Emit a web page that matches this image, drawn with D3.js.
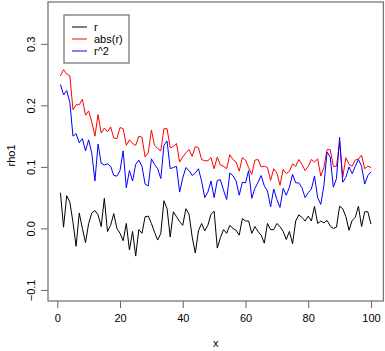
<!DOCTYPE html>
<html>
<head>
<meta charset="utf-8">
<script src="https://cdn.jsdelivr.net/npm/d3@7"></script>
<style>
  body { margin: 0; background: #fff; }
  text { font-family: "Liberation Sans", Arial, sans-serif; font-size: 11px; fill: #000; }
</style>
</head>
<body>
<svg width="385" height="351"></svg>
<script>
// values, one per x = 1..100
const rVals = [
  0.058, 0.002, 0.053, 0.043, 0.010, -0.029, 0.025, 0.000, -0.023, 0.008,
  0.025, 0.029, 0.022, 0.003, 0.049, -0.005, 0.005, 0.024, 0.000, -0.008,
  -0.020, 0.008, -0.035, -0.005, -0.045, -0.002, -0.008, 0.019, 0.020, 0.008,
  -0.006, -0.019, -0.008, 0.045, 0.032, -0.014, 0.027, 0.019, 0.011, 0.005,
  0.032, 0.023, -0.014, -0.040, -0.004, 0.008, -0.004, 0.005, 0.023, 0.028,
  -0.032, -0.015, -0.002, -0.008, 0.005, 0.000, -0.003, -0.011, 0.016, 0.012,
  0.012, -0.008, 0.003, -0.005, -0.011, -0.024, 0.008, -0.002, -0.002, 0.008,
  0.003, -0.005, -0.018, -0.005, -0.025, 0.012, 0.022, 0.018, 0.012, 0.020,
  0.012, 0.036, 0.008, 0.012, 0.009, 0.013, 0.004, 0.000, 0.002, 0.036,
  0.032, 0.019, -0.003, 0.013, 0.018, 0.036, 0.003, 0.027, 0.027, 0.007
];
const absVals = [
  0.248, 0.258, 0.251, 0.248, 0.193, 0.201, 0.201, 0.210, 0.184, 0.191,
  0.173, 0.150, 0.185, 0.155, 0.163, 0.157, 0.165, 0.147, 0.146, 0.164,
  0.162, 0.135, 0.144, 0.138, 0.135, 0.150, 0.148, 0.116, 0.123, 0.160,
  0.135, 0.130, 0.126, 0.162, 0.162, 0.131, 0.133, 0.138, 0.108, 0.116,
  0.123, 0.128, 0.117, 0.133, 0.131, 0.112, 0.110, 0.110, 0.115, 0.097,
  0.116, 0.103, 0.101, 0.097, 0.120, 0.112, 0.108, 0.093, 0.115, 0.111,
  0.099, 0.088, 0.111, 0.112, 0.100, 0.101, 0.099, 0.078, 0.097, 0.090,
  0.070, 0.096, 0.089, 0.093, 0.105, 0.101, 0.112, 0.104, 0.094, 0.101,
  0.112, 0.108, 0.113, 0.085, 0.099, 0.128, 0.128, 0.101, 0.101, 0.140,
  0.083, 0.115, 0.104, 0.101, 0.111, 0.113, 0.119, 0.097, 0.101, 0.099
];
const sqVals = [
  0.234, 0.217, 0.224, 0.205, 0.150, 0.154, 0.139, 0.146, 0.126, 0.144,
  0.122, 0.077, 0.137, 0.106, 0.103, 0.105, 0.101, 0.086, 0.085, 0.094,
  0.126, 0.066, 0.094, 0.077, 0.104, 0.111, 0.101, 0.072, 0.069, 0.113,
  0.104, 0.097, 0.081, 0.135, 0.142, 0.097, 0.099, 0.101, 0.059, 0.082,
  0.099, 0.094, 0.086, 0.090, 0.097, 0.077, 0.050, 0.059, 0.077, 0.050,
  0.078, 0.079, 0.062, 0.047, 0.090, 0.086, 0.077, 0.054, 0.075, 0.074,
  0.094, 0.049, 0.065, 0.075, 0.086, 0.069, 0.061, 0.035, 0.064, 0.047,
  0.034, 0.065, 0.054, 0.067, 0.088, 0.074, 0.074, 0.066, 0.050, 0.058,
  0.064, 0.085, 0.050, 0.039, 0.070, 0.124, 0.116, 0.067, 0.081, 0.148,
  0.075, 0.083, 0.100, 0.089, 0.101, 0.112, 0.101, 0.072, 0.086, 0.092
];
const seriesNames = ['r', 'abs(r)', 'r^2'];
const seriesColors = ['#000000', '#ff0000', '#0000ff'];
const xTicks = [0, 20, 40, 60, 80, 100];
const yTicks = [-0.1, 0.0, 0.1, 0.2, 0.3];
const yLimits = [-0.1, 0.35];

const svg = d3.select('svg');
const plot = { l: 48, r: 383.4, t: 2, b: 301 };

// R style: pad the data range by 4% on each side
function pad(lo, hi) {
  const e = (hi - lo) * 0.04;
  return [lo - e, hi + e];
}

const xIdx = d3.range(1, rVals.length + 1);
const x = d3.scaleLinear().domain(pad(1, rVals.length)).range([plot.l, plot.r]);
const y = d3.scaleLinear().domain(pad(yLimits[0], yLimits[1])).range([plot.b, plot.t]);

// series lines
const line = d3.line()
  .x((d, i) => x(xIdx[i]))
  .y(d => y(d));
[rVals, absVals, sqVals].forEach(function (vals, k) {
  svg.append('path')
    .datum(vals)
    .attr('fill', 'none')
    .attr('stroke', seriesColors[k])
    .attr('stroke-width', 1)
    .attr('d', line);
});

// axes
const xAxis = svg.append('g')
  .attr('transform', `translate(0,${plot.b})`)
  .call(d3.axisBottom(x).tickValues(xTicks).tickSize(7).tickPadding(5).tickFormat(d3.format('d')));
const yAxis = svg.append('g')
  .attr('transform', `translate(${plot.l},0)`)
  .call(d3.axisLeft(y).tickValues(yTicks).tickSize(7).tickFormat(d3.format('.1f')));
[xAxis, yAxis].forEach(function (g) {
  g.select('.domain').remove();
  g.selectAll('.tick line').attr('stroke', '#666');
  g.selectAll('.tick text')
    .style('font-family', '"Liberation Sans", Arial, sans-serif')
    .style('font-size', '11px')
    .attr('fill', '#000');
});
xAxis.selectAll('.tick text').attr('dy', '0.71em').attr('y', 13);
// y labels run along the axis, as R draws them
yAxis.selectAll('.tick text')
  .attr('x', null).attr('dy', null)
  .attr('text-anchor', 'middle')
  .attr('transform', 'translate(-17,0) rotate(-90)')
  .attr('dy', '0.35em');

// frame
svg.append('rect')
  .attr('x', plot.l).attr('y', plot.t)
  .attr('width', plot.r - plot.l).attr('height', plot.b - plot.t)
  .attr('fill', 'none')
  .attr('stroke', '#777')
  .attr('stroke-width', 1.3);

// axis titles
svg.append('text')
  .attr('x', (plot.l + plot.r) / 2).attr('y', 347)
  .attr('text-anchor', 'middle')
  .text('x');
svg.append('text')
  .attr('transform', `translate(15,${(plot.t + plot.b) / 2 + 4}) rotate(-90)`)
  .attr('text-anchor', 'middle')
  .text('rho1');

// legend
const legend = svg.append('g').attr('transform', 'translate(64,15)');
legend.append('rect')
  .attr('width', 65).attr('height', 48)
  .attr('fill', '#fff')
  .attr('stroke', '#777')
  .attr('stroke-width', 1.3);
seriesNames.forEach(function (name, k) {
  const ly = 12 + k * 12;
  legend.append('line')
    .attr('x1', 8).attr('x2', 23)
    .attr('y1', ly).attr('y2', ly)
    .attr('stroke', seriesColors[k]);
  legend.append('text')
    .attr('x', 30).attr('y', ly).attr('dy', '0.35em')
    .text(name);
});
</script>
</body>
</html>
